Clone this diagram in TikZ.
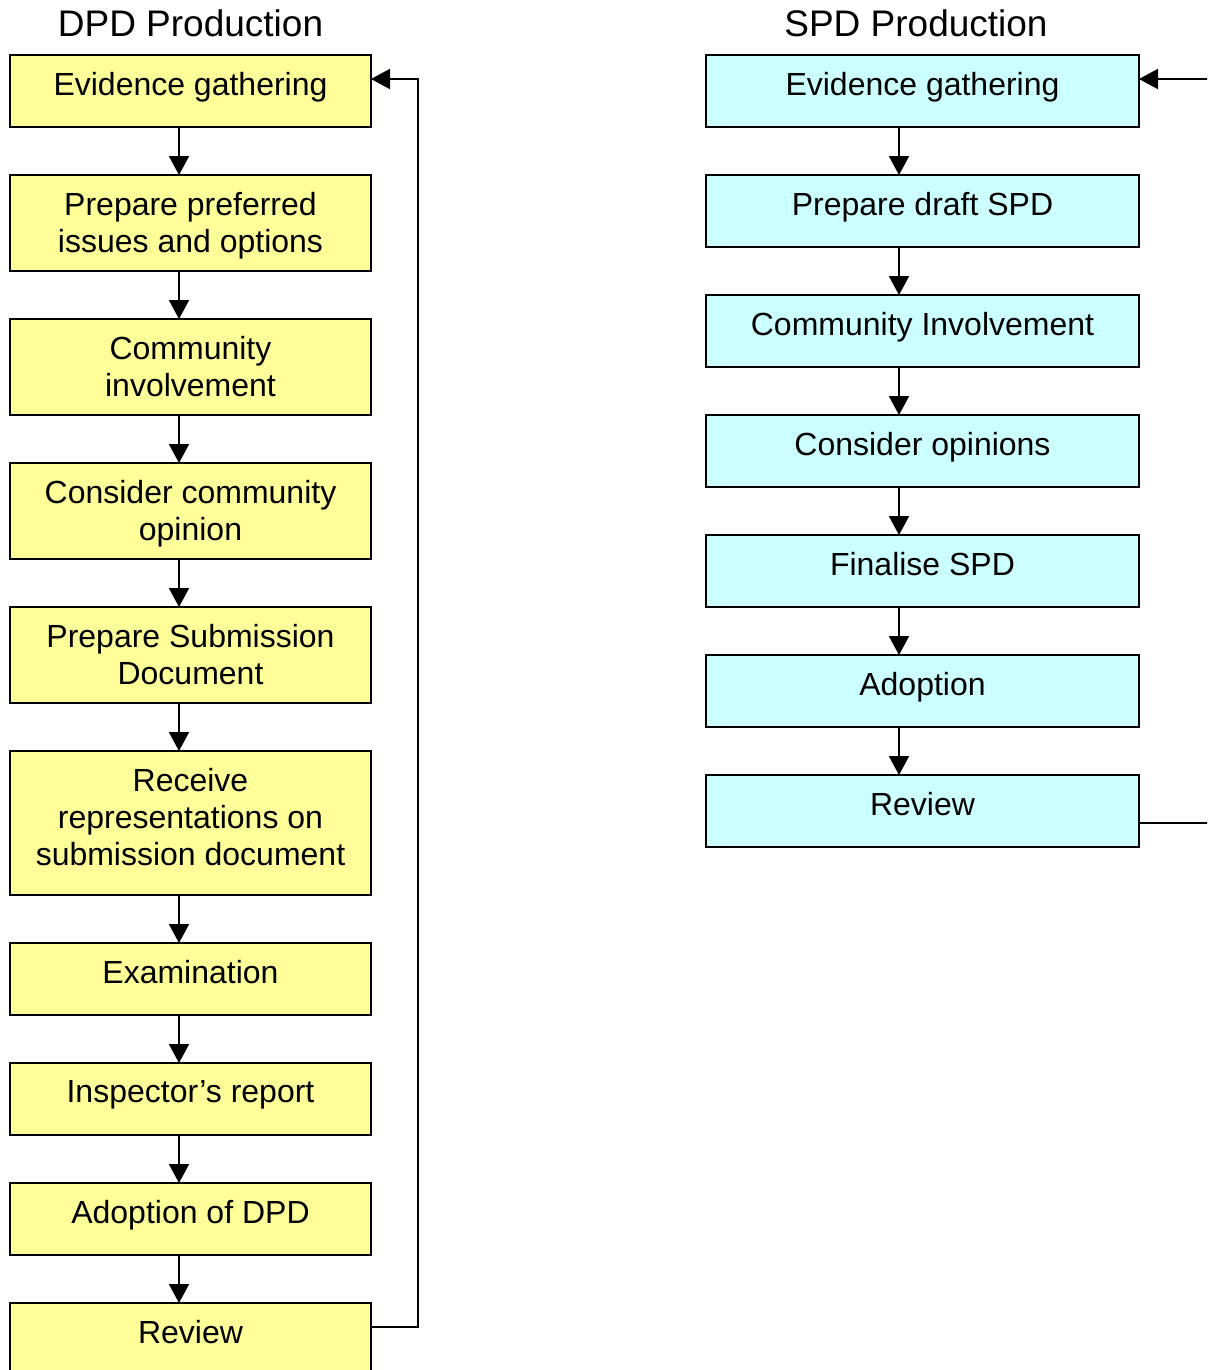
\documentclass[tikz,border=0pt]{standalone}
\usepackage{fontspec}
\setmainfont{Liberation Sans}
\usetikzlibrary{positioning,arrows.meta}
\definecolor{dpdyellow}{RGB}{255,255,153}
\definecolor{spdcyan}{RGB}{204,255,255}
\tikzset{
  stage/.style={draw, line width=2pt, inner sep=0pt, outer sep=0pt},
  dpd/.style={stage, fill=dpdyellow, minimum width=361pt},
  spd/.style={stage, fill=spdcyan, minimum width=433pt, minimum height=72pt},
  lbl/.style={anchor=north, inner sep=0pt, align=center, font=\fontsize{32}{37}\selectfont},
  heading/.style={lbl, font=\fontsize{37}{42}\selectfont},
  flow/.style={line width=2pt, -{Triangle[width=20pt,length=19pt]}},
}
\begin{document}
\begin{tikzpicture}[x=1pt, y=-1pt, node distance=48pt]
            \useasboundingbox (0,0) rectangle (1207,1370);
            \clip (0,0) rectangle (1207,1370);
            % DPD column
            \node[heading] (dpdtitle) at (190.5,9) {DPD Production};
            \node[dpd, minimum height=72pt] (d1) at (190.5,91) {};
            \node[dpd, minimum height=96pt, below=of d1] (d2) {};
            \node[dpd, minimum height=96pt, below=of d2] (d3) {};
            \node[dpd, minimum height=96pt, below=of d3] (d4) {};
            \node[dpd, minimum height=96pt, below=of d4] (d5) {};
            \node[dpd, minimum height=144pt, below=of d5] (d6) {};
            \node[dpd, minimum height=72pt, below=of d6] (d7) {};
            \node[dpd, minimum height=72pt, below=of d7] (d8) {};
            \node[dpd, minimum height=72pt, below=of d8] (d9) {};
            \node[dpd, minimum height=72pt, below=of d9] (d10) {};
            \node[lbl] (d1t) at ([yshift=-17pt]d1.north) {Evidence gathering};
            \node[lbl] (d2t) at ([yshift=-17pt]d2.north) {Prepare preferred\\issues and options};
            \node[lbl] (d3t) at ([yshift=-17pt]d3.north) {Community\\involvement};
            \node[lbl] (d4t) at ([yshift=-17pt]d4.north) {Consider community\\opinion};
            \node[lbl] (d5t) at ([yshift=-17pt]d5.north) {Prepare Submission\\Document};
            \node[lbl] (d6t) at ([yshift=-17pt]d6.north) {Receive\\representations on\\submission document};
            \node[lbl] (d7t) at ([yshift=-17pt]d7.north) {Examination};
            \node[lbl] (d8t) at ([yshift=-17pt]d8.north) {Inspector’s report};
            \node[lbl] (d9t) at ([yshift=-17pt]d9.north) {Adoption of DPD};
            \node[lbl] (d10t) at ([yshift=-17pt]d10.north) {Review};
            \foreach \a/\b in {d1/d2,d2/d3,d3/d4,d4/d5,d5/d6,d6/d7,d7/d8,d8/d9,d9/d10}
              \draw[flow] ([xshift=-11.5pt]\a.south) -- ([xshift=-11.5pt]\b.north);
            % DPD loop back
            \draw[flow] ([yshift=-24pt]d10.north east) -- ++(47,0) |- ([yshift=-24pt]d1.north east);
            % SPD column
            \node[heading] (spdtitle) at (916,9) {SPD Production};
            \node[spd] (s1) at (922.5,91) {};
            \node[spd, below=of s1] (s2) {};
            \node[spd, below=of s2] (s3) {};
            \node[spd, below=of s3] (s4) {};
            \node[spd, below=of s4] (s5) {};
            \node[spd, below=of s5] (s6) {};
            \node[spd, below=of s6] (s7) {};
            \node[lbl] (s1t) at ([yshift=-17pt]s1.north) {Evidence gathering};
            \node[lbl] (s2t) at ([yshift=-17pt]s2.north) {Prepare draft SPD};
            \node[lbl] (s3t) at ([yshift=-17pt]s3.north) {Community Involvement};
            \node[lbl] (s4t) at ([yshift=-17pt]s4.north) {Consider opinions};
            \node[lbl] (s5t) at ([yshift=-17pt]s5.north) {Finalise SPD};
            \node[lbl] (s6t) at ([yshift=-17pt]s6.north) {Adoption};
            \node[lbl] (s7t) at ([yshift=-17pt]s7.north) {Review};
            \foreach \a/\b in {s1/s2,s2/s3,s3/s4,s4/s5,s5/s6,s6/s7}
              \draw[flow] ([xshift=-23.5pt]\a.south) -- ([xshift=-23.5pt]\b.north);
            % SPD loop back, running off the page
            \draw[flow] ([yshift=-48pt]s7.north east) -- ++(100,0) |- ([yshift=-24pt]s1.north east);
\end{tikzpicture}
\end{document}
